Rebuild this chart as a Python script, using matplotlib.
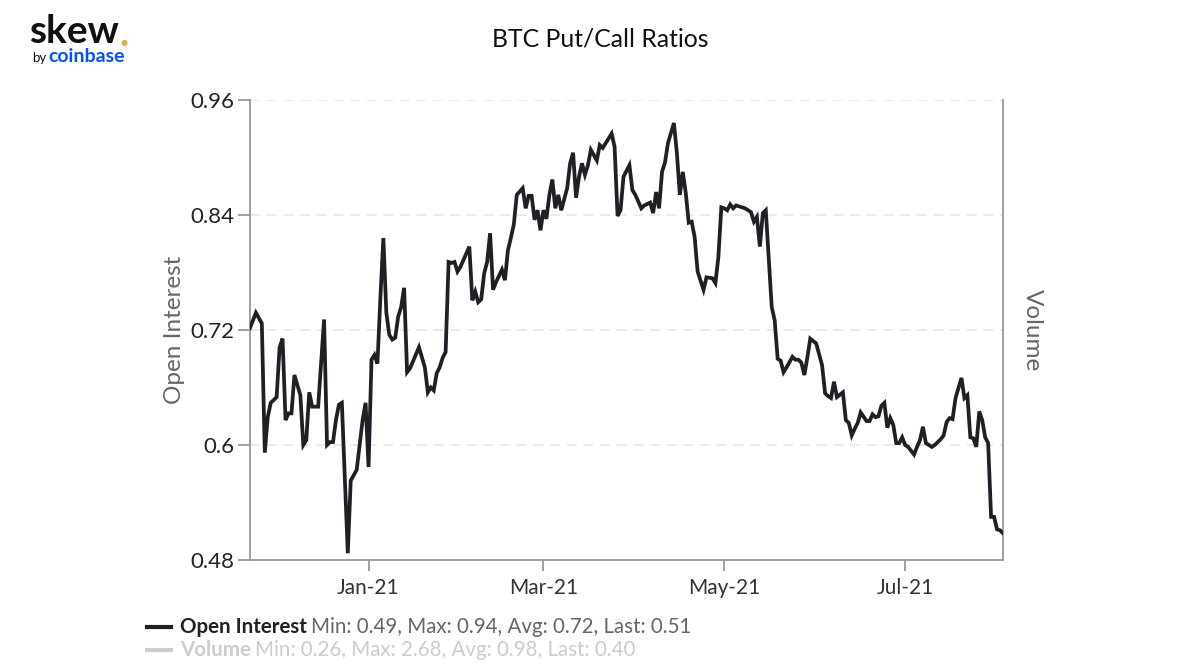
import matplotlib
matplotlib.use("Agg")
import matplotlib.pyplot as plt
from matplotlib.lines import Line2D
import pandas as pd

plt.rcParams['font.family'] = ['Lato', 'DejaVu Sans']

# ---- data -------------------------------------------------------------
title = "BTC Put/Call Ratios"
base_date = "2021-01-01"
# days relative to base_date
day_offsets = [
    -40, -38, -36, -35, -34, -33, -31, -30, -29, -28, -27, -26, -25, -23, -22, -21,
    -20, -19, -17, -15, -14, -13, -12, -11, -10, -9, -7, -6, -4, -2, -1, 0,
    1, 2, 3, 4, 5, 6, 7, 8, 9, 10, 11, 12, 13, 14, 17, 19, 20, 21, 22, 23, 24, 25,
    26, 27, 28, 29, 30, 31, 33, 34, 35, 36, 37, 38, 39, 40, 41, 42, 43, 45, 46, 47,
    48, 49, 50, 52, 53, 54, 55, 56, 57, 58, 59, 60, 61, 62, 63, 64, 65, 67, 68, 69,
    70, 71, 72, 73, 74, 75, 77, 78, 79, 82, 83, 84, 85, 86, 88, 89, 90, 92, 93, 95,
    96, 97, 98, 99, 100, 101, 103, 104, 105, 106, 107, 108, 109, 110, 111, 113, 114,
    116, 117, 118, 119, 120, 121, 122, 123, 124, 125, 127, 129, 130, 131, 132, 133,
    134, 136, 137, 138, 139, 140, 141, 143, 144, 145, 146, 147, 148, 149, 151, 153,
    154, 155, 156, 157, 158, 160, 161, 162, 163, 164, 165, 166, 168, 169, 170, 171,
    172, 173, 174, 175, 176, 177, 178, 179, 180, 181, 182, 184, 185, 186, 187, 188,
    190, 191, 193, 194, 195, 196, 197, 198, 200, 201, 202, 203, 204, 205, 206, 207,
    208, 209, 210, 211, 212, 213, 214,
]
open_interest = [
    0.722, 0.738, 0.727, 0.592, 0.629, 0.644, 0.650, 0.702, 0.711, 0.626, 0.633, 0.633,
    0.673, 0.652, 0.600, 0.605, 0.655, 0.640, 0.640, 0.731, 0.600, 0.603, 0.603, 0.626,
    0.642, 0.644, 0.487, 0.563, 0.574, 0.626, 0.644, 0.577,
    0.689, 0.694, 0.685, 0.754, 0.816, 0.738, 0.715, 0.710, 0.712, 0.734, 0.744, 0.764,
    0.676, 0.680, 0.702, 0.681, 0.655, 0.660, 0.657, 0.675, 0.681, 0.691,
    0.697, 0.791, 0.790, 0.791, 0.781, 0.786, 0.800, 0.807, 0.751, 0.760, 0.749, 0.752,
    0.779, 0.791, 0.821, 0.762, 0.770, 0.783, 0.772, 0.803,
    0.816, 0.830, 0.861, 0.868, 0.847, 0.860, 0.860, 0.835, 0.845, 0.824, 0.845, 0.836,
    0.861, 0.877, 0.847, 0.861, 0.845, 0.868, 0.894, 0.905,
    0.858, 0.880, 0.894, 0.882, 0.892, 0.908, 0.897, 0.913, 0.910, 0.925, 0.911, 0.839,
    0.845, 0.880, 0.892, 0.866, 0.861, 0.847, 0.850, 0.853,
    0.842, 0.864, 0.847, 0.885, 0.895, 0.915, 0.936, 0.905, 0.861, 0.885, 0.863, 0.832,
    0.833, 0.817, 0.781, 0.762, 0.775,
    0.774, 0.769, 0.796, 0.848, 0.847, 0.845, 0.851, 0.847, 0.850, 0.849, 0.847, 0.843,
    0.833, 0.838, 0.807, 0.842,
    0.845, 0.744, 0.730, 0.690, 0.688, 0.676, 0.681, 0.692, 0.689, 0.689, 0.686, 0.673,
    0.691, 0.711, 0.706, 0.683,
    0.654, 0.651, 0.649, 0.666, 0.650, 0.655, 0.626, 0.623, 0.610, 0.617, 0.623, 0.634,
    0.625, 0.625, 0.632, 0.629,
    0.630, 0.641, 0.644, 0.618, 0.628, 0.621, 0.602, 0.602, 0.608, 0.600, 0.598, 0.590,
    0.598, 0.605, 0.619, 0.602,
    0.598, 0.600, 0.606, 0.610, 0.624, 0.628, 0.627, 0.649, 0.670, 0.649, 0.652, 0.608,
    0.607, 0.598, 0.635, 0.626,
    0.608, 0.602, 0.525, 0.525, 0.512, 0.511, 0.508,
]
y_ticks = [0.48, 0.6, 0.72, 0.84, 0.96]
y_tick_labels = ["0.48", "0.6", "0.72", "0.84", "0.96"]
x_tick_dates = ["2021-01-01", "2021-03-01", "2021-05-01", "2021-07-01"]
x_tick_labels = ["Jan-21", "Mar-21", "May-21", "Jul-21"]
legend_series = ["Open Interest", "Volume"]
legend_stats = ["Min: 0.49, Max: 0.94, Avg: 0.72, Last: 0.51",
                "Min: 0.26, Max: 2.68, Avg: 0.98, Last: 0.40"]

# ---- figure -------------------------------------------------------------
dates = pd.Timestamp(base_date) + pd.to_timedelta(day_offsets, unit="D")

fig = plt.figure(figsize=(12, 6.7), dpi=100)
ax = fig.add_axes([0.2083, 0.1642, 0.6275, 0.6865])
renderer = fig.canvas.get_renderer()

LINE = "#1f2026"
AXIS = "#999999"
ax.plot(dates, open_interest, color=LINE, lw=2.7, solid_joinstyle="miter", zorder=3)

ax.set_ylim(0.48, 0.96)
ax.set_xlim(dates[0], dates[-1])
ax.set_yticks(y_ticks)
ax.set_yticklabels(y_tick_labels)
ax.set_xticks(pd.to_datetime(x_tick_dates))
ax.set_xticklabels(x_tick_labels)

for y in y_ticks[1:]:
    ax.axhline(y, color="#e6e6e6", lw=1.2, ls=(0, (6, 4)), zorder=1)

ax.spines["top"].set_visible(False)
for s in ["left", "bottom", "right"]:
    ax.spines[s].set_color(AXIS)
    ax.spines[s].set_linewidth(1.3)

ax.tick_params(axis="y", length=9, width=1.3, color=AXIS, labelsize=16,
               labelcolor="#222222", pad=2)
ax.tick_params(axis="x", length=8, width=1.3, color=AXIS, labelsize=15,
               labelcolor="#333333", pad=5)

ax.set_ylabel("Open Interest", fontsize=17.5, color="#666666", labelpad=4)
fig.text(0.860, 0.507, "Volume", rotation=270, fontsize=17.5, color="#666666",
         ha="center", va="center")

fig.text(0.5, 0.942, title, ha="center", va="center", fontsize=17.8,
         color="#111111")

# logo
t_skew = fig.text(0.024, 0.953, "skew", fontsize=28, fontweight="bold",
                  color="#111111", ha="left", va="center")
bb = t_skew.get_window_extent(renderer=renderer)
fig.text((bb.x1 + 1) / fig.bbox.width, bb.y0 / fig.bbox.height + 0.004, ".",
         fontsize=28, fontweight="bold", color="#f0a830", ha="left", va="baseline")
fig.text(0.027, 0.913, "by", fontsize=9.5, color="#111111", ha="left", va="center")
fig.text(0.040, 0.916, "coinbase", fontsize=14, fontweight="bold", color="#0052ff",
         ha="left", va="center")

# legend
rows_y = [0.064, 0.030]
name_colors = ["#222222", "#cccccc"]
stat_colors = ["#666666", "#cccccc"]
line_colors = [LINE, "#cccccc"]
for i, (name, stat) in enumerate(zip(legend_series, legend_stats)):
    yy = rows_y[i]
    fig.add_artist(Line2D([0.1225, 0.1425], [yy, yy], color=line_colors[i], lw=3,
                          transform=fig.transFigure))
    t = fig.text(0.150, yy, name, fontsize=14.8, fontweight="bold",
                 color=name_colors[i], ha="left", va="center")
    bb = t.get_window_extent(renderer=renderer)
    x2 = (bb.x1 + 4) / fig.bbox.width
    fig.text(x2, yy, stat, fontsize=14.8, color=stat_colors[i], ha="left", va="center")

fig.savefig("out.png", dpi=100)
